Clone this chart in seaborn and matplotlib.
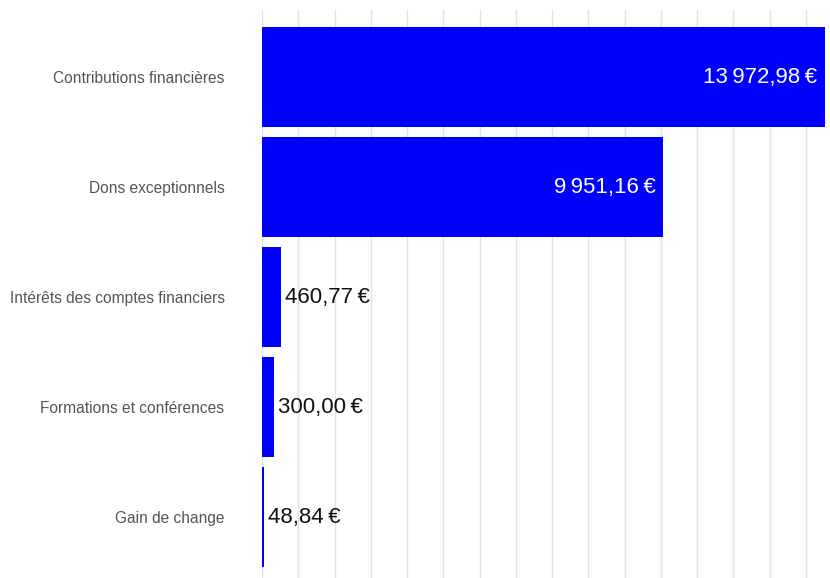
import matplotlib
matplotlib.use("Agg")
import matplotlib.pyplot as plt
import seaborn as sns
import pandas as pd
import numpy as np

categories = ["Contributions financières", "Dons exceptionnels",
              "Intérêts des comptes financiers", "Formations et conférences",
              "Gain de change"]
values = [13972.98, 9951.16, 460.77, 300.00, 48.84]
value_labels = ["13\u202f972,98\u202f€", "9\u202f951,16\u202f€", "460,77\u202f€",
                "300,00\u202f€", "48,84\u202f€"]

sns.set_theme(style="white")
plt.rcParams['font.family'] = ['Liberation Sans', 'DejaVu Sans']

df = pd.DataFrame({"categorie": categories, "montant": values})

fig = plt.figure(figsize=(8.30, 5.78), dpi=100)
ax = fig.add_axes([262 / 830, 0, 1 - 262 / 830, 568 / 578])

sns.barplot(data=df, x="montant", y="categorie", orient="h", color="#0000ff",
            saturation=1, width=100 / 110, ax=ax, zorder=2,
            linewidth=0, edgecolor="none")

xmax = (830 - 262) * 24.815
ax.set_xlim(0, xmax)
ax.set_ylim(4 + 61 / 110, -67 / 110)
ax.set_xticks(np.arange(0, xmax, 900))
ax.set_xticklabels([])
ax.grid(axis="x", color="#e3e3e3", linewidth=1.0, zorder=0)
ax.grid(axis="y", visible=False)
ax.set_axisbelow(True)
for s in ax.spines.values():
    s.set_visible(False)
ax.set_xlabel("")
ax.set_ylabel("")
ax.tick_params(axis="y", length=0, pad=27, labelsize=11.2, labelcolor="#555555")
ax.tick_params(axis="x", length=0)

for i, (v, lab) in enumerate(zip(values, value_labels)):
    if v > 3000:
        ax.annotate(lab, (v, i), xytext=(-5.5, 0), textcoords="offset points",
                    ha="right", va="center", color="white", fontsize=16)
    else:
        ax.annotate(lab, (v, i), xytext=(3, 0), textcoords="offset points",
                    ha="left", va="center", color="#111111", fontsize=16)

fig.savefig("out.png", dpi=100)
